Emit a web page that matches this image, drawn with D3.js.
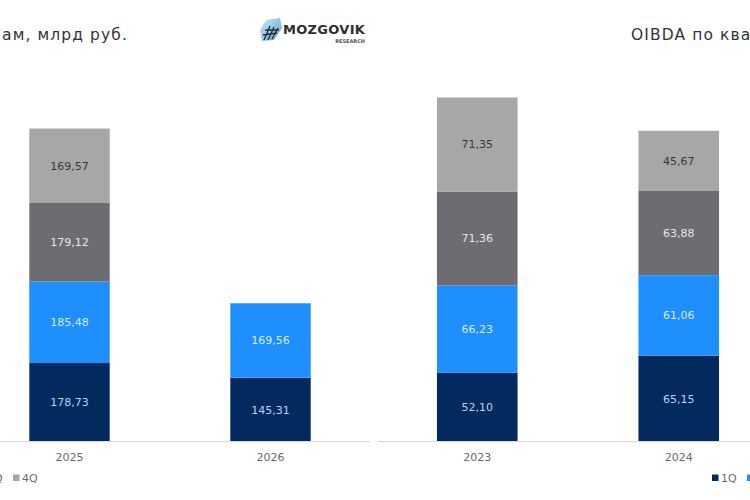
<!DOCTYPE html>
<html>
<head>
<meta charset="utf-8">
<script src="https://cdn.jsdelivr.net/npm/d3@7/dist/d3.min.js"></script>
<style>
  html, body { margin: 0; padding: 0; background: #fff; }
  svg { display: block; }
</style>
</head>
<body>
<svg id="chart" width="750" height="500"></svg>
<script>
// ---- Data ----
const quarters = ["1Q", "2Q", "3Q", "4Q"];

const revenueTitle = "Выручка по кварталам, млрд руб.";
const revenueYears = ["2025", "2026"];
const revenue1Q = [178.73, 145.31];
const revenue2Q = [185.48, 169.56];
const revenue3Q = [179.12, null];
const revenue4Q = [169.57, null];

const oibdaTitle = "OIBDA по кварталам, млрд руб.";
const oibdaYears = ["2023", "2024"];
const oibda1Q = [52.10, 65.15];
const oibda2Q = [66.23, 61.06];
const oibda3Q = [71.36, 63.88];
const oibda4Q = [71.35, 45.67];

const logoName = "MOZGOVIK";
const logoSub = "RESEARCH";

// ---- Styles ----
const colors = { "1Q": "#032a5f", "2Q": "#1f8ffd", "3Q": "#6c6d70", "4Q": "#a7a7a8" };
const labelColors = { "1Q": "#b9d3f2", "2Q": "#d8ecff", "3Q": "#e6e6e6", "4Q": "#383838" };
const fmt = v => d3.format(".2f")(v).replace(".", ",");
const font = "'DejaVu Sans', Verdana, sans-serif";

const svg = d3.select("#chart");
const baseY = 441.5;

function buildRows(years, s1, s2, s3, s4) {
  return years.map((y, i) => ({ year: y, "1Q": s1[i], "2Q": s2[i], "3Q": s3[i], "4Q": s4[i] }));
}

function drawPanel(cfg) {
  const g = svg.append("g");
  const x = d3.scaleBand().domain(cfg.years).range(cfg.xRange)
    .paddingInner(0.6).paddingOuter(0.3);
  const y = d3.scaleLinear().domain([0, cfg.yMax]).range([baseY, cfg.yTop]);

  const rows = buildRows(cfg.years, ...cfg.series);
  const stack = d3.stack().keys(quarters).value((d, k) => d[k] == null ? 0 : d[k]);
  const layers = stack(rows);

  const layerG = g.selectAll("g.layer").data(layers).join("g").attr("class", "layer")
    .attr("fill", d => colors[d.key]);

  layerG.selectAll("rect")
    .data(d => d.map(p => ({ key: d.key, p })).filter(o => o.p.data[o.key] != null))
    .join("rect")
    .attr("x", o => x(o.p.data.year))
    .attr("width", x.bandwidth())
    .attr("y", o => y(o.p[1]))
    .attr("height", o => y(o.p[0]) - y(o.p[1]));

  layerG.selectAll("text")
    .data(d => d.map(p => ({ key: d.key, p })).filter(o => o.p.data[o.key] != null))
    .join("text")
    .attr("x", o => x(o.p.data.year) + x.bandwidth() / 2)
    .attr("y", o => (y(o.p[0]) + y(o.p[1])) / 2)
    .attr("dy", "0.36em")
    .attr("text-anchor", "middle")
    .attr("font-family", font)
    .attr("font-size", 11)
    .attr("fill", o => labelColors[o.key])
    .text(o => fmt(o.p.data[o.key]));

  // axis baseline
  g.append("line")
    .attr("x1", cfg.axisX[0]).attr("x2", cfg.axisX[1])
    .attr("y1", baseY).attr("y2", baseY)
    .attr("stroke", "#d9d9d9").attr("stroke-width", 1);

  // category labels via axis
  const axis = d3.axisBottom(x).tickSize(0).tickPadding(12);
  const ax = g.append("g").attr("transform", `translate(0,${baseY})`).call(axis);
  ax.select(".domain").remove();
  ax.selectAll("text")
    .attr("font-family", font).attr("font-size", 11).attr("fill", "#6b6b6b");

  // title
  g.append("text")
    .attr("x", cfg.titleX).attr("y", 40)
    .attr("text-anchor", cfg.titleAnchor)
    .attr("font-family", font).attr("font-size", 15.5)
    .attr("letter-spacing", 1.1)
    .attr("fill", "#333")
    .text(cfg.title);

  // legend
  const step = 35;
  const leg = g.append("g");
  const items = leg.selectAll("g").data(quarters).join("g")
    .attr("transform", (d, i) => `translate(${cfg.legendStart + i * step},478)`);
  items.append("rect").attr("x", 0).attr("y", -3.5).attr("width", 6.5).attr("height", 6.5)
    .attr("fill", d => colors[d]);
  items.append("text").attr("x", 9).attr("dy", "0.36em")
    .attr("font-family", font).attr("font-size", 11).attr("fill", "#6b6b6b")
    .text(d => d);
}

drawPanel({
  years: revenueYears,
  series: [revenue1Q, revenue2Q, revenue3Q, revenue4Q],
  xRange: [-31, 371], yMax: 800, yTop: 90.3,
  axisX: [0, 370],
  title: revenueTitle, titleX: 128, titleAnchor: "end",
  legendStart: 13 - 3 * 35
});

drawPanel({
  years: oibdaYears,
  series: [oibda1Q, oibda2Q, oibda3Q, oibda4Q],
  xRange: [376.5, 779.5], yMax: 280, yTop: 72.5,
  axisX: [378, 750],
  title: oibdaTitle, titleX: 631, titleAnchor: "start",
  legendStart: 712
});

// ---- Logo ----
const logo = svg.append("g").attr("transform", "translate(260,18)");
const grad = svg.append("defs").append("linearGradient").attr("id", "lg")
  .attr("x1", "0").attr("y1", "0").attr("x2", "1").attr("y2", "1");
grad.append("stop").attr("offset", "0").attr("stop-color", "#cfe6f7");
grad.append("stop").attr("offset", "1").attr("stop-color", "#5aa6d9");
logo.append("path").attr("d", "M6,2 L20,0 L22,10 L14,22 L2,23 L0,12 Z").attr("fill", "url(#lg)");
logo.append("path").attr("d", "M4,22 L10,8 M8,22 L14,9 M12,21 L18,10 M3,17 L17,15 M5,12 L19,12")
  .attr("stroke", "#2b2b2b").attr("stroke-width", 1.3).attr("fill", "none");
logo.append("text").attr("x", 23).attr("y", 15.5)
  .attr("font-family", font).attr("font-weight", "bold").attr("font-size", 13)
  .attr("letter-spacing", 0.3).attr("fill", "#2e2e2e").text(logoName);
logo.append("text").attr("x", 105).attr("y", 25).attr("text-anchor", "end")
  .attr("font-family", font).attr("font-weight", "bold").attr("font-size", 5)
  .attr("fill", "#555").text(logoSub);
</script>
</body>
</html>
